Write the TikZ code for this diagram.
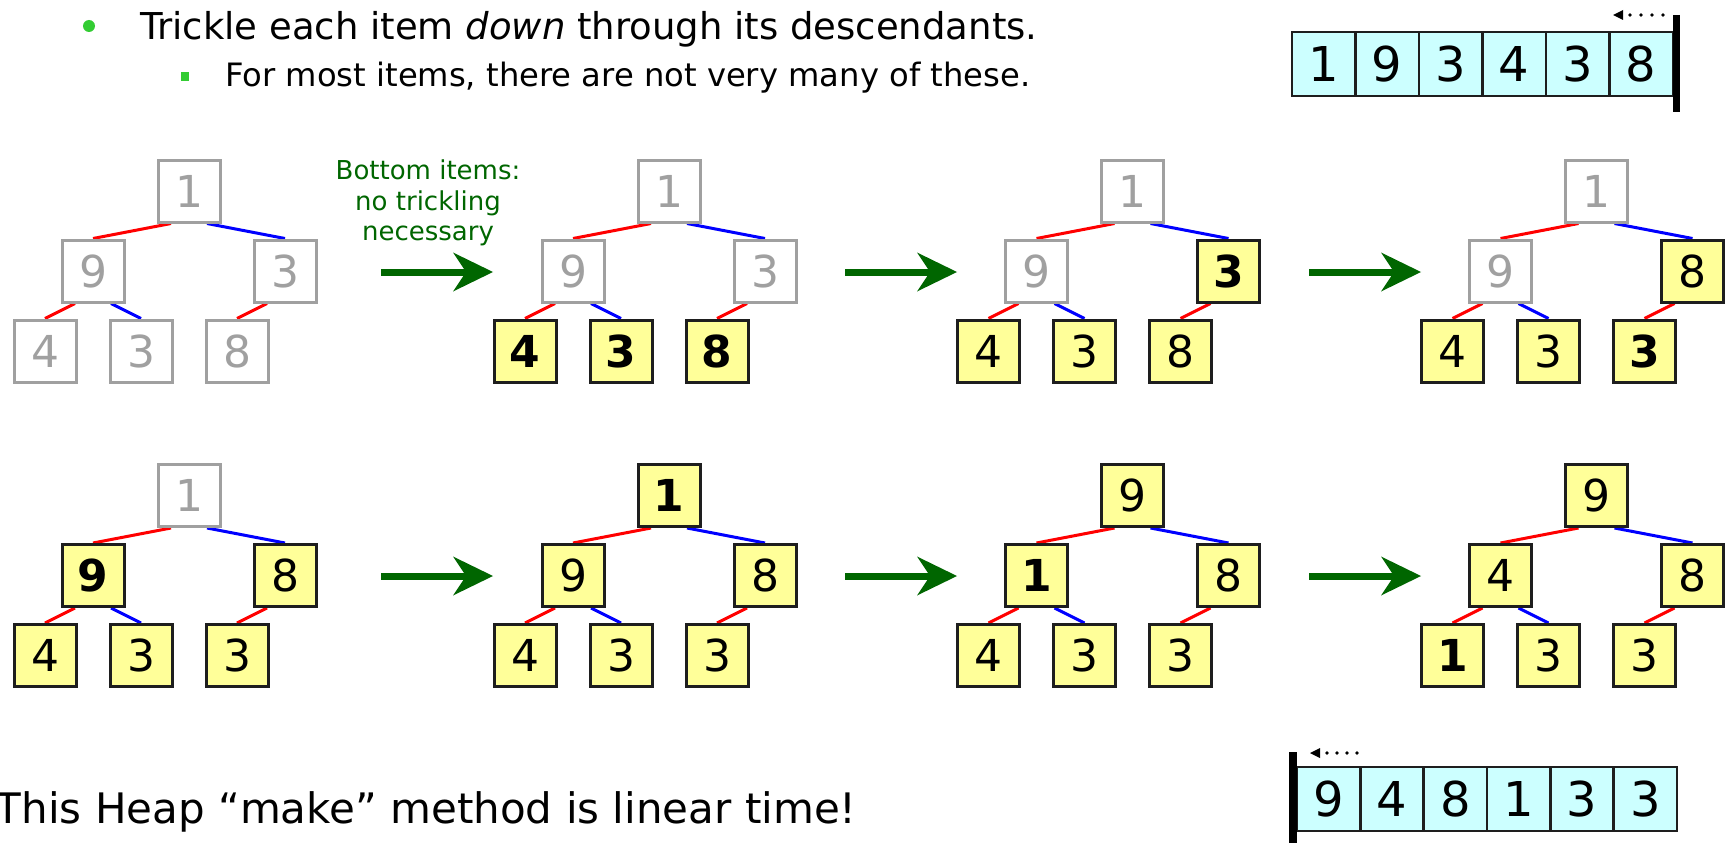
\documentclass[tikz,border=0pt]{standalone}
\usepackage{fontspec}
\setmainfont{DejaVu Sans}
\pgfdeclarelayer{back}
\pgfdeclarelayer{bg}
\pgfsetlayers{back,bg,main}
\definecolor{cGray}{RGB}{160,160,160}
\definecolor{cBox}{RGB}{30,30,30}
\definecolor{cYel}{RGB}{255,255,153}
\definecolor{cCyan}{RGB}{204,255,255}
\definecolor{cGreen}{RGB}{0,102,0}
\definecolor{cBullet}{RGB}{51,204,51}
\tikzset{
  hbox/.style={line width=3pt, minimum width=62pt, minimum height=62pt, inner sep=0pt, font=\fontsize{44}{44}\selectfont},
  hg/.style={hbox, draw=cGray, fill=white, text=cGray},
  hy/.style={hbox, draw=cBox, fill=cYel, text=black},
  hb/.style={hy, font=\fontsize{44}{44}\selectfont\bfseries},
  redE/.style={line width=3pt, draw={rgb,255:red,255;green,0;blue,0}},
  blueE/.style={line width=3pt, draw={rgb,255:red,0;green,0;blue,255}},
  cell/.style={draw=cBox, line width=2.5pt, fill=cCyan, minimum width=63.5pt, minimum height=64pt, inner sep=0pt, font=\fontsize{48}{48}\selectfont},
  greentxt/.style={text=cGreen, font=\fontsize{26}{30}\selectfont, anchor=base, inner sep=0pt},
}
\newcommand\heaptree[9]{%
  \node (#1a) at (#2,#3) #4;
  \node (#1b) at ({#2-96},{#3+80}) #5;
  \node (#1c) at ({#2+96},{#3+80}) #6;
  \node (#1d) at ({#2-144},{#3+160}) #7;
  \node (#1e) at ({#2-48},{#3+160}) #8;
  \node (#1f) at ({#2+48},{#3+160}) #9;
  \begin{pgfonlayer}{bg}
    \draw[redE] (#1b.north) -- ([xshift=-18pt]#1a.south);
    \draw[blueE] (#1c.north) -- ([xshift=18pt]#1a.south);
    \draw[redE] (#1d.north) -- ([xshift=-18pt]#1b.south);
    \draw[blueE] (#1e.north) -- ([xshift=18pt]#1b.south);
    \draw[redE] (#1f.north) -- ([xshift=-18pt]#1c.south);
  \end{pgfonlayer}%
}
\newcommand\garrow[3]{%
  \coordinate (#1s) at (#2,#3);
  \coordinate (#1t) at ({#2+112},#3);
  \draw[line width=7pt, cGreen] (#1s) -- ++(86,0);
  \fill[cGreen] (#1t) -- ++(-40,-19.5) -- ++(13,19.5) -- ++(-13,19.5) -- cycle;
}
\begin{document}
\begin{tikzpicture}[x=1pt,y=-1pt]
\useasboundingbox (0,0) rectangle (1727,843);
\begin{pgfonlayer}{back}
\fill[white] (0,0) rectangle (1727,843);
\end{pgfonlayer}

% header text
\fill[cBullet] (89,26) circle (6);
\node[anchor=base west, inner sep=0pt, font=\fontsize{37}{44}\selectfont] (line1) at (140,40) {Trickle each item \textit{down} through its descendants.};
\fill[cBullet] (180.5,72.5) rectangle (189,81);
\node[anchor=base west, inner sep=0pt, font=\fontsize{32.2}{38}\selectfont] (line2) at (225,87) {For most items, there are not very many of these.};

% bottom text
\node[anchor=base east, inner sep=0pt, font=\fontsize{42}{48}\selectfont] (line3) at (857,823) {This Heap “make” method is linear time!};

% green note
\node[greentxt] (bt1) at (428,179) {Bottom items:};
\node[greentxt] (bt2) at (428,210) {no trickling};
\node[greentxt] (bt3) at (428,240) {necessary};

% row 1
\heaptree{pa}{189}{191}{[hg]{1}}{[hg]{9}}{[hg]{3}}{[hg]{4}}{[hg]{3}}{[hg]{8}}
\heaptree{pb}{669}{191}{[hg]{1}}{[hg]{9}}{[hg]{3}}{[hb]{4}}{[hb]{3}}{[hb]{8}}
\heaptree{pc}{1132.5}{191}{[hg]{1}}{[hg]{9}}{[hb]{3}}{[hy]{4}}{[hy]{3}}{[hy]{8}}
\heaptree{pd}{1596.5}{191}{[hg]{1}}{[hg]{9}}{[hy]{8}}{[hy]{4}}{[hy]{3}}{[hb]{3}}
% row 2
\heaptree{qa}{189}{495.5}{[hg]{1}}{[hb]{9}}{[hy]{8}}{[hy]{4}}{[hy]{3}}{[hy]{3}}
\heaptree{qb}{669}{495.5}{[hb]{1}}{[hy]{9}}{[hy]{8}}{[hy]{4}}{[hy]{3}}{[hy]{3}}
\heaptree{qc}{1132.5}{495.5}{[hy]{9}}{[hb]{1}}{[hy]{8}}{[hy]{4}}{[hy]{3}}{[hy]{3}}
\heaptree{qd}{1596.5}{495.5}{[hy]{9}}{[hy]{4}}{[hy]{8}}{[hb]{1}}{[hy]{3}}{[hy]{3}}

% arrows
\garrow{ga}{381}{272}
\garrow{gb}{845}{272}
\garrow{gc}{1309}{272}
\garrow{gd}{381}{576}
\garrow{ge}{845}{576}
\garrow{gf}{1309}{576}

% top array
\foreach \v [count=\i from 0] in {1,9,3,4,3,8}
  \node[cell] (ta\i) at ({1323.75+63.5*\i},64) {\v};
\draw[line width=7pt] (1676.5,15) -- (1676.5,112);
\fill (1613,15) -- (1623,10) -- (1623,20) -- cycle;
\foreach \xx in {1630,1641,1652,1663} \fill (\xx,15) circle (1.8);

% bottom array
\foreach \v [count=\i from 0] in {9,4,8,1,3,3}
  \node[cell] (ba\i) at ({1328.7+63.33*\i},799) {\v};
\draw[line width=8pt] (1292.5,752) -- (1292.5,843);
\fill (1310,753) -- (1320,748) -- (1320,758) -- cycle;
\foreach \xx in {1327,1337,1347,1357} \fill (\xx,753) circle (1.8);
\end{tikzpicture}
\end{document}
